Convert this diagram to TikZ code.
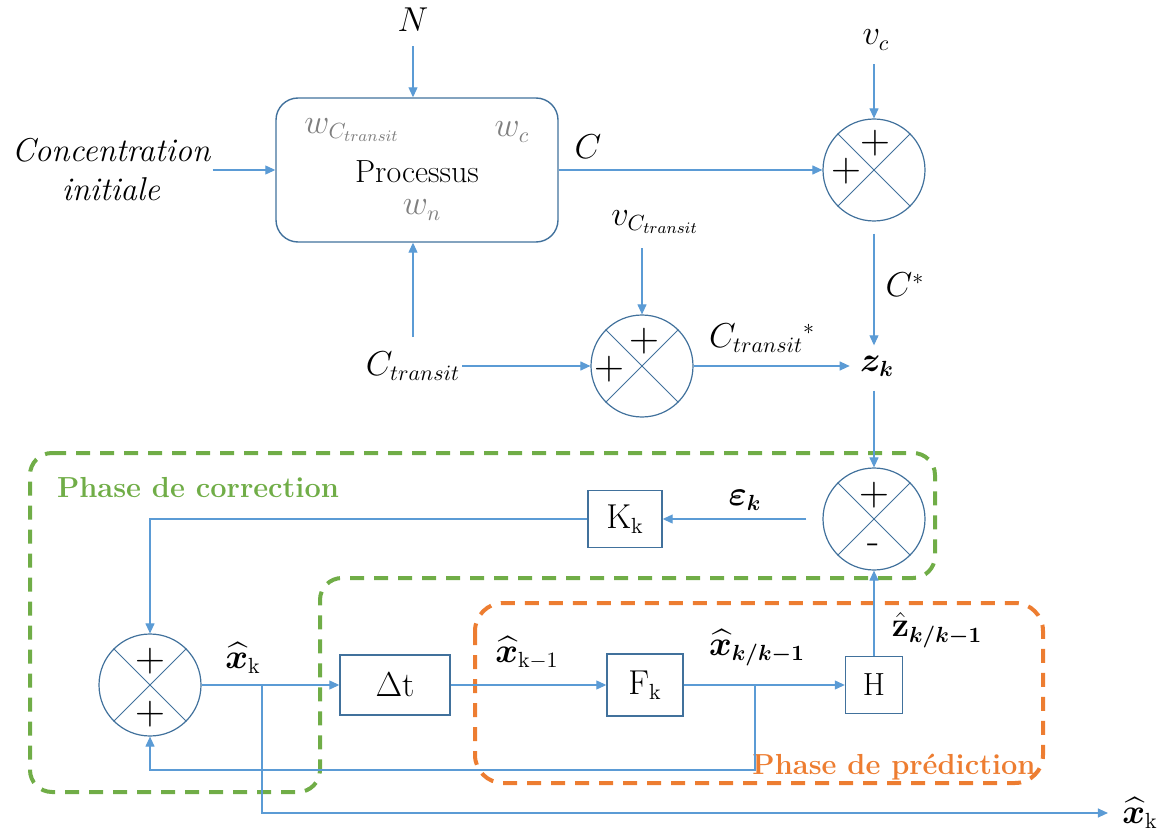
\documentclass[tikz,border=0pt]{standalone}
\usepackage{amsmath,bm}
\usetikzlibrary{arrows.meta,shapes.geometric}
\definecolor{lineblue}{HTML}{5B9BD5}
\definecolor{boxblue}{HTML}{41719C}
\definecolor{grn}{HTML}{70AD47}
\definecolor{orng}{HTML}{ED7D31}
\definecolor{wgray}{HTML}{7F7F7F}
\begin{document}
\begin{tikzpicture}[x=0.5pt,y=-0.5pt,
  conn/.style={draw=lineblue, line width=0.55pt, -{Triangle[length=5pt,width=4.5pt]}},
  plain/.style={draw=lineblue, line width=0.55pt},
  blk/.style={draw=boxblue, line width=0.7pt, rectangle, inner sep=0pt, font=\fontsize{16}{19}\selectfont},
  sumnode/.style={circle, draw=boxblue, line width=0.6pt, minimum size=51pt, inner sep=0pt},
  lbl/.style={inner sep=1pt, font=\fontsize{16}{19}\selectfont},
  sgn/.style={inner sep=0pt, font=\fontsize{20}{22}\selectfont},
  gl/.style={inner sep=1pt, text=wgray, font=\fontsize{16}{19}\selectfont},
  phase/.style={inner sep=0pt, font=\fontsize{14.5}{17}\selectfont\bfseries},
  dashbox/.style={line width=2pt, dash pattern=on 7pt off 5pt, rounded corners=11pt}
]
\useasboundingbox (0,0) rectangle (1167,834);

% dashed phase regions
\draw[dashbox, grn] (30,453) -- (935,453) -- (935,578) -- (320,578) -- (320,792) -- (30,792) -- cycle;
\draw[dashbox, orng, rounded corners=14pt] (475,603) rectangle (1043,783);
\node[phase, text=grn] (pc) at (198,488) {Phase de correction};
\node[phase, text=orng] (pp) at (894,767) {Phase de pr\'ediction};

% process block
\node[blk, rounded corners=11pt, minimum width=141pt, minimum height=72pt] (proc) at (417,170) {};
\node[lbl] (ptxt) at (417,172) {Processus};
\node[gl] (wct) at (352,130) {$w_{C_{transit}}$};
\node[gl] (wc) at (512,132) {$w_c$};
\node[gl] (wn) at (422,210) {$w_n$};

\node[lbl, align=center, font=\fontsize{16.5}{19.5}\selectfont\itshape] (ci) at (111,170) {Concentration\\initiale};
\node[lbl] (N) at (413,20) {$N$};
\node[lbl] (vc) at (876,40) {$v_c$};
\node[lbl] (C) at (588,147) {$C$};

% summing junctions
\node[sumnode] (s1) at (874,170) {};
\node[sumnode] (s2) at (642,366) {};
\node[sumnode] (s3) at (874,519) {};
\node[sumnode] (s4) at (150,685) {};
\foreach \s in {s1,s2,s3,s4}{
  \draw[boxblue, line width=0.5pt] (\s.45) -- (\s.225) (\s.135) -- (\s.-45);
}
\node[sgn] (s1t) at (875,143) {$+$};
\node[sgn] (s1l) at (846,171) {$+$};
\node[sgn] (s2t) at (644,341) {$+$};
\node[sgn] (s2l) at (609,369) {$+$};
\node[sgn] (s3t) at (874,495) {$+$};
\node[sgn] (s3b) at (874,549) {-};
\node[sgn] (s4t) at (150,661) {$+$};
\node[sgn] (s4b) at (150,714) {$+$};

\node[lbl] (Cs) at (905,285) {$C^{*}$};
\node[lbl] (zk) at (877,366) {$\bm{z_k}$};
\node[lbl] (ct) at (413,366) {$C_{transit}$};
\node[lbl] (vct) at (655,222) {$v_{C_{transit}}$};
\node[lbl] (cts) at (762,338) {$C_{transit}{}^{*}$};

% blocks
\node[blk, minimum width=37pt, minimum height=28.5pt] (Kk) at (625,519) {$\mathrm{K_k}$};
\node[blk, minimum width=55pt, minimum height=30pt] (dt) at (395,685) {$\Delta\mathrm{t}$};
\node[blk, minimum width=38pt, minimum height=31pt] (Fk) at (645,685) {$\mathrm{F_k}$};
\node[blk, minimum width=28.5pt, minimum height=28.5pt] (H) at (874,685) {H};

\node[lbl] (eps) at (745,500) {$\bm{\varepsilon_k}$};
\node[lbl] (xk) at (243,658) {$\widehat{\bm{x}}_{\mathrm{k}}$};
\node[lbl] (xkm) at (527,653) {$\widehat{\bm{x}}_{\mathrm{k-1}}$};
\node[lbl] (xkk) at (757,648) {$\widehat{\bm{x}}_{\bm{k/k-1}}$};
\node[lbl] (zkk) at (937,630) {$\hat{\mathbf{z}}_{\bm{k/k-1}}$};
\node[lbl] (xout) at (1140,813) {$\widehat{\bm{x}}_{\mathrm{k}}$};

\coordinate (b1) at (262,685);
\coordinate (b2) at (755,685);
\coordinate (fb) at (150,770);

% connectors
\draw[conn, shorten <=6pt] (N.south) -- (N.south |- proc.north);
\draw[conn] (ci.east |- proc.west) -- (proc.west);
\draw[conn] (proc.east) -- (s1.west);
\draw[conn, shorten <=6pt] (vc.south -| s1.north) -- (s1.north);
\draw[conn, shorten <=6pt, shorten >=4pt] (s1.south) -- (zk.north -| s1.south);
\draw[conn, shorten <=6pt] (ct.north) -- (proc.south -| ct.north);
\draw[conn] (ct.east) -- (s2.west);
\draw[conn, shorten <=6pt] (vct.south -| s2.north) -- (s2.north);
\draw[conn, shorten >=4pt] (s2.east) -- (zk.west);
\draw[conn, shorten <=6pt] (zk.south -| s3.north) -- (s3.north);
\draw[conn, shorten <=8pt] (s3.west) -- (Kk.east);
\draw[conn] (Kk.west) -| (s4.north);
\draw[conn] (s4.east) -- (dt.west);
\draw[conn] (dt.east) -- (Fk.west);
\draw[conn] (Fk.east) -- (H.west);
\draw[conn] (H.north) -- (s3.south);
\draw[conn] (b2) |- (fb) -- (s4.south);
\draw[conn, shorten >=6pt] (b1) |- (xout.west);
\end{tikzpicture}
\end{document}
